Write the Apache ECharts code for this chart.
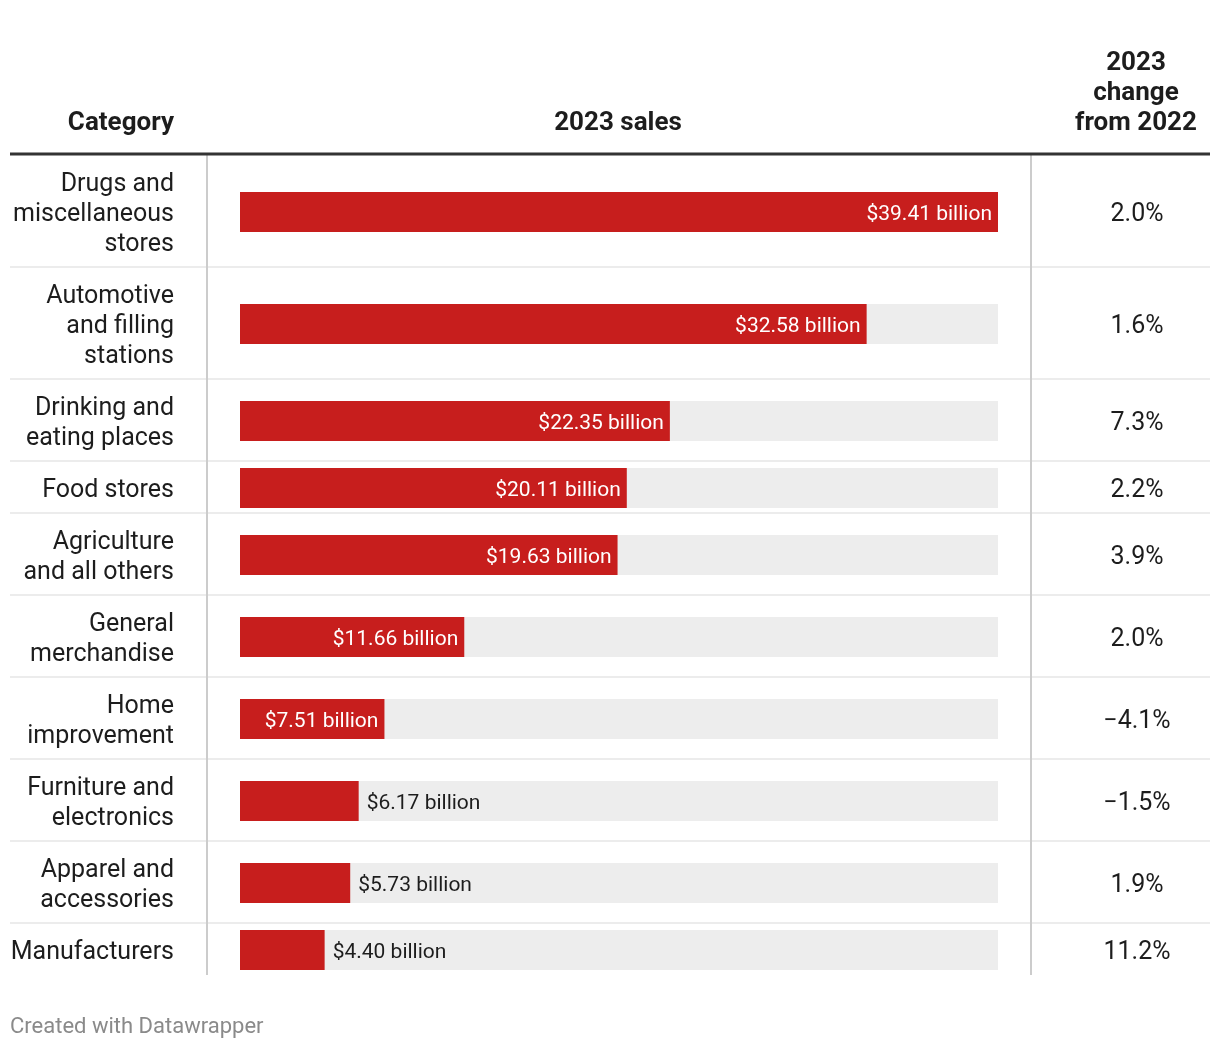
<!DOCTYPE html>
<html><head><meta charset="utf-8">
<script src="https://cdn.jsdelivr.net/npm/echarts@6/dist/echarts.min.js"></script>
<style>html,body{margin:0;padding:0;background:#fff}#c{width:1220px;height:1050px}</style>
</head><body><div id="c"></div>
<script>
const categories = [
  "Drugs and\nmiscellaneous\nstores",
  "Automotive\nand filling\nstations",
  "Drinking and\neating places",
  "Food stores",
  "Agriculture\nand all others",
  "General\nmerchandise",
  "Home\nimprovement",
  "Furniture and\nelectronics",
  "Apparel and\naccessories",
  "Manufacturers"
];
const sales = [39.41, 32.58, 22.35, 20.11, 19.63, 11.66, 7.51, 6.17, 5.73, 4.40];
const changeLabels = ["2.0%", "1.6%", "7.3%", "2.2%", "3.9%", "2.0%", "\u22124.1%", "\u22121.5%", "1.9%", "11.2%"];
const headers = ["Category", "2023 sales", "2023\nchange\nfrom 2022"];

const FONT = "Roboto";
const TXT = "#1d1d1d";
const maxVal = Math.max(...sales);
const chart = echarts.init(document.getElementById('c'));

const grids = [], xAxes = [], yAxes = [], series = [], graphics = [];
let rowY = 155;
const hiddenAxis = { axisLine: { show: false }, axisTick: { show: false }, splitLine: { show: false } };
categories.forEach((cat, i) => {
  const lines = cat.split("\n").length;
  const h = lines * 30 + 22;
  // bar grid
  grids.push({ left: 240, width: 758, top: rowY + 1, height: h });
  // text grid (for row labels, slightly lower to match text baseline)
  grids.push({ left: 240, width: 758, top: rowY + 4, height: h });
  xAxes.push({ type: 'value', gridIndex: 2 * i, min: 0, max: maxVal, show: false });
  xAxes.push({ type: 'value', gridIndex: 2 * i + 1, min: 0, max: maxVal, show: false });
  yAxes.push(Object.assign({
    type: 'category', gridIndex: 2 * i, data: [cat], axisLabel: { show: false }
  }, hiddenAxis));
  yAxes.push(Object.assign({
    type: 'category', gridIndex: 2 * i + 1, data: [cat], position: 'left',
    axisLabel: { margin: 66, align: 'right', color: TXT, fontFamily: FONT, fontSize: 25, lineHeight: 30 }
  }, hiddenAxis));
  yAxes.push(Object.assign({
    type: 'category', gridIndex: 2 * i + 1, data: [changeLabels[i]], position: 'right',
    axisLabel: { margin: 139, align: 'center', color: TXT, fontFamily: FONT, fontSize: 25 }
  }, hiddenAxis));
  const inside = sales[i] > 7;
  series.push({
    type: 'bar', xAxisIndex: 2 * i, yAxisIndex: 3 * i, data: [sales[i]], barWidth: 40,
    itemStyle: { color: '#c71e1d' },
    showBackground: true, backgroundStyle: { color: '#ededed' },
    silent: true,
    label: {
      show: true, position: inside ? 'insideRight' : 'right', distance: inside ? 6 : 8,
      offset: [0, 3],
      color: inside ? '#ffffff' : TXT, fontFamily: FONT, fontSize: 21,
      formatter: p => '$' + p.value.toFixed(2) + ' billion'
    }
  });
  rowY += h;
  if (i < categories.length - 1) {
    graphics.push({ type: 'line', shape: { x1: 10, y1: rowY, x2: 1210, y2: rowY }, style: { stroke: '#ececec', lineWidth: 2 }, z: 1 });
  }
});
const bottomY = rowY;
graphics.push({ type: 'line', shape: { x1: 207, y1: 155, x2: 207, y2: bottomY }, style: { stroke: '#cccccc', lineWidth: 2 }, z: 2 });
graphics.push({ type: 'line', shape: { x1: 1031, y1: 155, x2: 1031, y2: bottomY }, style: { stroke: '#cccccc', lineWidth: 2 }, z: 2 });
graphics.push({ type: 'line', shape: { x1: 10, y1: 154, x2: 1210, y2: 154 }, style: { stroke: '#333333', lineWidth: 3 }, z: 3 });
graphics.push({ type: 'text', x: 174, y: 123, style: { text: headers[0], textAlign: 'right', textVerticalAlign: 'middle', font: 'bold 26px Roboto', fill: TXT } });
graphics.push({ type: 'text', x: 618, y: 123, style: { text: headers[1], textAlign: 'center', textVerticalAlign: 'middle', font: 'bold 26px Roboto', fill: TXT } });
graphics.push({ type: 'text', x: 1136, y: 138, style: { text: headers[2], textAlign: 'center', textVerticalAlign: 'bottom', font: 'bold 26px Roboto', lineHeight: 30, fill: TXT } });
graphics.push({ type: 'text', x: 10, y: 1027, style: { text: 'Created with Datawrapper', textAlign: 'left', textVerticalAlign: 'middle', font: '22px Roboto', fill: '#8a8a8a' } });

chart.setOption({
  animation: false,
  grid: grids, xAxis: xAxes, yAxis: yAxes, series: series, graphic: graphics
});
</script></body></html>
